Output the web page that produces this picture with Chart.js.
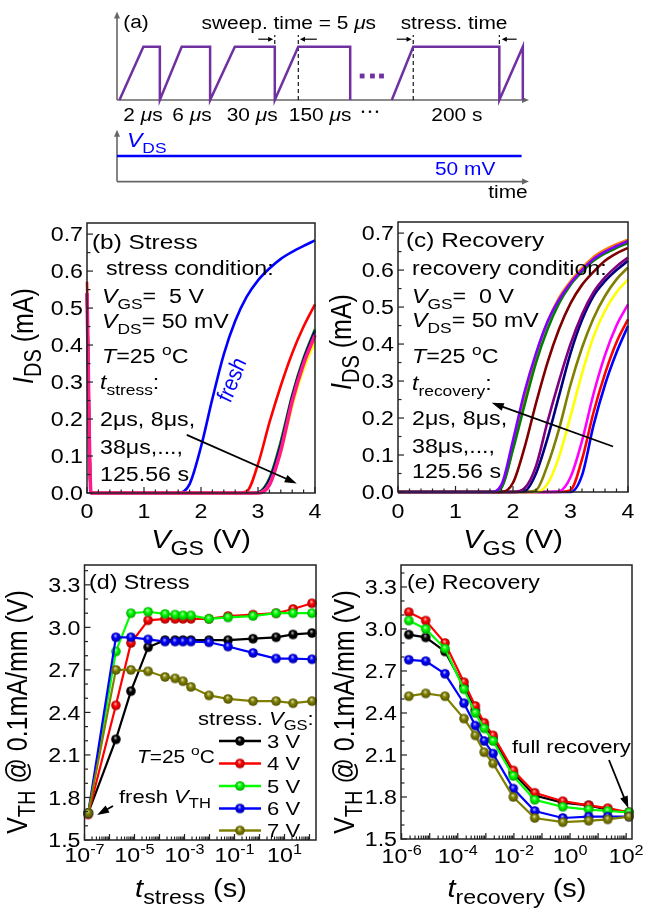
<!DOCTYPE html>
<html>
<head>
<meta charset="utf-8">
<script src="https://cdn.jsdelivr.net/npm/chart.js@4.4.0/dist/chart.umd.min.js"></script>
<style>
  body { margin: 0; background: #fff; }
  #wrap { position: relative; width: 657px; height: 912px; }
  canvas { position: absolute; left: 0; top: 0; }
</style>
</head>
<body>
<div id="wrap">
  <canvas id="ca" width="657" height="912"></canvas>
  <canvas id="cb" width="657" height="912"></canvas>
  <canvas id="cc" width="657" height="912"></canvas>
  <canvas id="cd" width="657" height="912"></canvas>
  <canvas id="ce" width="657" height="912"></canvas>
</div>
<script>
/* ---------- data ---------- */

// (a) gate waveform, schematic time units (0-100) and level (0 low, 1 high)
const gateT = [0.6, 6.4, 10.4, 10.4, 15.7, 22.6, 22.6, 28.6, 38.3, 38.3, 44.0, 56.6, 56.6, 56.6, 66.7, 71.9, 92.8, 92.8, 98.5, 98.5];
const gateV = [0, 1, 1, 0, 1, 1, 0, 1, 1, 0, 1, 1, 0, null, 0, 1, 1, 0, 1, 0];
const dashT = [38.3, 44.0, 71.9, 92.8];
const vdsT = [0, 98.2];
const vdsLevel = -1.05;
const dotsT = [59.5, 62.0, 64.2];
const smallDotsT = [59.7, 61.4, 63.1];

// (b) I-V under stress
const vgsB = [0, 0.07, 1.4, 1.6, 1.8, 2.0, 2.2, 2.4, 2.6, 2.8, 3.0, 3.2, 3.4, 3.6, 3.8, 4.0];
const freshB  = [0.54, 0, 0, 0, 0.024, 0.125, 0.255, 0.375, 0.465, 0.53, 0.575, 0.607, 0.633, 0.652, 0.668, 0.683];
const redB    = [0.571, 0, 0, 0, 0, 0, 0, 0, 0, 0.004, 0.078, 0.19, 0.29, 0.378, 0.45, 0.51];
const greenB  = [0.54, 0, 0, 0, 0, 0, 0, 0, 0, 0, 0.002, 0.04, 0.14, 0.265, 0.365, 0.443];
const navyB   = [0.54, 0, 0, 0, 0, 0, 0, 0, 0, 0, 0.001, 0.035, 0.13, 0.26, 0.36, 0.438];
const yellowB = [0.54, 0, 0, 0, 0, 0, 0, 0, 0, 0, 0, 0.025, 0.11, 0.235, 0.335, 0.41];
const pinkB   = [0.54, 0, 0, 0, 0, 0, 0, 0, 0, 0, 0, 0.022, 0.115, 0.248, 0.35, 0.427];
const curvesB = [freshB, redB, greenB, navyB, yellowB, pinkB];
const colorsB = ['#0000ff', '#ff0000', '#008000', '#000080', '#ffff00', '#ff1a8c'];
const widthsB = [2.6, 2.6, 2.6, 2.6, 2.6, 3.6];

// (c) I-V during recovery
const vgsC = [0, 1.4, 1.6, 1.8, 2.0, 2.2, 2.4, 2.6, 2.8, 3.0, 3.2, 3.4, 3.6, 3.8, 4.0];
const blueC   = [0, 0, 0, 0, 0, 0, 0, 0, 0, 0, 0.045, 0.18, 0.29, 0.377, 0.449];
const redC    = [0, 0, 0, 0, 0, 0, 0, 0, 0, 0.005, 0.088, 0.215, 0.32, 0.405, 0.467];
const magC    = [0, 0, 0, 0, 0, 0, 0, 0, 0.002, 0.04, 0.138, 0.265, 0.37, 0.45, 0.507];
const yelC    = [0, 0, 0, 0, 0, 0, 0, 0.022, 0.095, 0.205, 0.32, 0.42, 0.49, 0.54, 0.575];
const oliveC  = [0, 0, 0, 0, 0, 0, 0.005, 0.072, 0.17, 0.29, 0.39, 0.47, 0.53, 0.575, 0.607];
const navyC   = [0, 0, 0, 0, 0, 0.002, 0.05, 0.145, 0.26, 0.375, 0.465, 0.53, 0.57, 0.60, 0.625];
const purpleC = [0, 0, 0, 0, 0, 0.01, 0.07, 0.19, 0.30, 0.40, 0.48, 0.54, 0.58, 0.61, 0.634];
const wineC   = [0, 0, 0, 0, 0.025, 0.12, 0.24, 0.35, 0.44, 0.51, 0.56, 0.595, 0.625, 0.645, 0.66];
const orangeC = [0, 0, 0, 0.014, 0.12, 0.255, 0.37, 0.46, 0.525, 0.57, 0.605, 0.635, 0.655, 0.67, 0.682];
const greenC  = [0, 0, 0, 0.012, 0.115, 0.235, 0.35, 0.44, 0.51, 0.56, 0.595, 0.625, 0.645, 0.66, 0.673];
const violetC = [0, 0, 0, 0.02, 0.14, 0.27, 0.375, 0.46, 0.52, 0.565, 0.60, 0.63, 0.65, 0.665, 0.679];
const curvesC = [blueC, redC, magC, yelC, oliveC, navyC, purpleC, wineC, orangeC, greenC, violetC];
const colorsC = ['#0000ff', '#ff0000', '#ff00ff', '#ffff00', '#808000', '#000080', '#800080', '#800000', '#ff8000', '#008000', '#8000ff'];

// (d) VTH vs stress time, first point = fresh
const tStress = [1.4e-7, 1.8e-6, 7.2e-6, 3.5e-5, 1.66e-4, 4.2e-4, 8.7e-4, 1.8e-3, 9.5e-3, 5.5e-2, 0.55, 4.6, 22, 125.56];
const vth3 = [1.69, 2.21, 2.55, 2.86, 2.91, 2.91, 2.91, 2.91, 2.91, 2.91, 2.92, 2.93, 2.95, 2.96];
const vth4 = [1.68, 2.45, 2.89, 3.05, 3.06, 3.06, 3.06, 3.06, 3.06, 3.08, 3.09, 3.10, 3.13, 3.17];
const vth5 = [1.69, 2.83, 3.10, 3.11, 3.095, 3.09, 3.085, 3.085, 3.06, 3.07, 3.08, 3.10, 3.10, 3.10];
const vth6 = [1.69, 2.93, 2.93, 2.915, 2.90, 2.90, 2.90, 2.90, 2.895, 2.865, 2.82, 2.78, 2.78, 2.775];
const vth7 = [1.69, 2.70, 2.70, 2.69, 2.65, 2.64, 2.62, 2.58, 2.52, 2.495, 2.48, 2.48, 2.465, 2.48];
const stressSeries = [vth3, vth4, vth5, vth6, vth7];

// (e) VTH vs recovery time
const tRec = [1.8e-6, 7.2e-6, 3.5e-5, 1.66e-4, 4.2e-4, 8.7e-4, 1.8e-3, 9.5e-3, 5.5e-2, 0.55, 4.6, 22, 125.56];
const rec3 = [2.96, 2.94, 2.84, 2.59, 2.42, 2.31, 2.22, 1.97, 1.81, 1.76, 1.74, 1.71, 1.69];
const rec4 = [3.12, 3.06, 2.90, 2.62, 2.45, 2.33, 2.24, 1.99, 1.83, 1.77, 1.74, 1.72, 1.69];
const rec5 = [3.06, 3.00, 2.86, 2.57, 2.40, 2.29, 2.20, 1.95, 1.78, 1.73, 1.71, 1.70, 1.69];
const rec6 = [2.78, 2.77, 2.68, 2.47, 2.31, 2.20, 2.11, 1.86, 1.70, 1.65, 1.66, 1.66, 1.66];
const rec7 = [2.52, 2.54, 2.52, 2.36, 2.24, 2.12, 2.04, 1.80, 1.65, 1.62, 1.63, 1.64, 1.66];
const recSeries = [rec3, rec4, rec5, rec6, rec7];

const vthColors = ['#000000', '#ff0000', '#00ff00', '#0000ff', '#808000'];
const legendLabels = ['3 V', '4 V', '5 V', '6 V', '7 V'];

const ivTicks = [0, 0.1, 0.2, 0.3, 0.4, 0.5, 0.6, 0.7];
const vthTicks = [1.5, 1.8, 2.1, 2.4, 2.7, 3.0, 3.3];

/* ---------- helpers ---------- */
const FONT = '"Liberation Sans", Arial, Helvetica, sans-serif';
const SX = 1.16;   // the figure's text is a bit wider than Arial

// '*' toggles italic, _{..} subscript, ^{..} superscript
function parseRich(s) {
    const out = []; let it = false, buf = '', i = 0;
    const push = (t, mode) => { if (t) out.push({ t, it, mode }); };
    while (i < s.length) {
        const c = s[i];
        if (c === '*') { push(buf, 0); buf = ''; it = !it; i++; }
        else if ((c === '_' || c === '^') && s[i + 1] === '{') {
            push(buf, 0); buf = '';
            const j = s.indexOf('}', i);
            push(s.slice(i + 2, j), c === '_' ? 1 : 2);
            i = j + 1;
        } else { buf += c; i++; }
    }
    push(buf, 0);
    return out;
}

function drawRich(ctx, s, x, y, size, o = {}) {
    const parts = parseRich(s);
    const small = size * (o.sub || 0.75);
    const fontOf = p => `${p.it ? 'italic ' : ''}${p.mode ? small : size}px ${FONT}`;
    let w = 0;
    parts.forEach(p => { ctx.font = fontOf(p); p.w = ctx.measureText(p.t).width; w += p.w; });
    ctx.save();
    ctx.translate(x, y);
    ctx.scale(SX, 1);
    if (o.rot) ctx.rotate(o.rot);
    ctx.fillStyle = o.color || '#000';
    ctx.textAlign = 'left'; ctx.textBaseline = 'alphabetic';
    let cx = o.align === 'center' ? -w / 2 : o.align === 'right' ? -w : 0;
    parts.forEach(p => {
        ctx.font = fontOf(p);
        const dy = p.mode === 1 ? size * 0.28 : p.mode === 2 ? -size * 0.42 : 0;
        ctx.fillText(p.t, cx, dy);
        cx += p.w;
    });
    ctx.restore();
}

function arrow(ctx, x1, y1, x2, y2, head, width, color, lw) {
    const ang = Math.atan2(y2 - y1, x2 - x1);
    ctx.save();
    ctx.strokeStyle = color; ctx.fillStyle = color; ctx.lineWidth = lw;
    ctx.beginPath(); ctx.moveTo(x1, y1);
    ctx.lineTo(x2 - Math.cos(ang) * head * 0.8, y2 - Math.sin(ang) * head * 0.8); ctx.stroke();
    ctx.translate(x2, y2); ctx.rotate(ang);
    ctx.beginPath(); ctx.moveTo(0, 0); ctx.lineTo(-head, -width / 2); ctx.lineTo(-head, width / 2); ctx.closePath(); ctx.fill();
    ctx.restore();
}

function mix(hex, t, target) {
    const n = parseInt(hex.slice(1), 16);
    const c = [(n >> 16) & 255, (n >> 8) & 255, n & 255].map(v => Math.round(v + (target - v) * t));
    return `rgb(${c[0]},${c[1]},${c[2]})`;
}

// shaded sphere markers like the original
function ball(color, r = 4.8) {
    const s = Math.ceil(r * 2 + 2), m = s / 2;
    const c = document.createElement('canvas'); c.width = c.height = s;
    const g = c.getContext('2d');
    const grd = g.createRadialGradient(m - r * 0.15, m - r * 0.4, 0, m, m, r);
    grd.addColorStop(0, mix(color, 0.8, 255));
    grd.addColorStop(0.45, color);
    grd.addColorStop(1, mix(color, 0.35, 0));
    g.fillStyle = grd; g.beginPath(); g.arc(m, m, r, 0, Math.PI * 2); g.fill();
    return c;
}
const balls = vthColors.map(c => ball(c));

function pad(left, top, right, bottom) {
    return { left, top, right: 657 - right, bottom: 912 - bottom };
}

function baseOptions(padding, x, y) {
    return {
        responsive: false, animation: false, events: [],
        layout: { padding },
        plugins: { legend: { display: false }, tooltip: { enabled: false } },
        scales: { x: Object.assign({ display: false }, x), y: Object.assign({ display: false }, y) }
    };
}

// frame, inward ticks, tick labels, titles, notes
function framePlugin(spec) {
    return {
        id: 'frame' + spec.name,
        afterDatasetsDraw(chart) {
            const { ctx, chartArea: a, scales: { x, y } } = chart;
            ctx.save();
            ctx.strokeStyle = '#222'; ctx.lineWidth = 1.5;
            ctx.strokeRect(a.left, a.top, a.right - a.left, a.bottom - a.top);
            ctx.lineWidth = 1.2;
            const tick = (px, py, dx, dy) => { ctx.beginPath(); ctx.moveTo(px, py); ctx.lineTo(px + dx, py + dy); ctx.stroke(); };
            spec.xMajor.forEach(v => tick(x.getPixelForValue(v), a.bottom, 0, -6));
            spec.xMinor.forEach(v => tick(x.getPixelForValue(v), a.bottom, 0, -3.5));
            spec.yMajor.forEach(v => tick(a.left, y.getPixelForValue(v), 6, 0));
            spec.yMinor.forEach(v => tick(a.left, y.getPixelForValue(v), 3.5, 0));
            ctx.restore();

            spec.xLabels.forEach(([v, s]) => drawRich(ctx, s, x.getPixelForValue(v), spec.xLabelBase, 20, { align: 'center', sub: 0.7 }));
            spec.yLabels.forEach(([v, s]) => drawRich(ctx, s, a.left - 4, y.getPixelForValue(v) + 7.2, 20, { align: 'right' }));
            const xt = spec.xTitle, yt = spec.yTitle;
            drawRich(ctx, xt.s, xt.x, xt.y, 25, { align: 'center', sub: 0.8 });
            drawRich(ctx, yt.s, yt.x, yt.y, 25, { align: 'center', sub: 0.8, rot: -Math.PI / 2 });
            (spec.notes || []).forEach(n => drawRich(ctx, n.s, n.x, n.y, n.size || 20, n));
            (spec.arrows || []).forEach(([x1, y1, x2, y2]) =>
                arrow(ctx, x.getPixelForValue(x1), y.getPixelForValue(y1), x.getPixelForValue(x2), y.getPixelForValue(y2), 12, 8, '#000', 1.8));
            if (spec.extra) spec.extra(chart);
        }
    };
}

function range(a, b, step) {
    const out = [];
    for (let v = a; v <= b + 1e-9; v += step) out.push(+v.toFixed(4));
    return out;
}
function logMinor(e0, e1) {
    const out = [];
    for (let e = e0; e < e1; e++) for (let k = 2; k <= 9; k++) out.push(k * Math.pow(10, e));
    return out;
}

/* ---------- (a) timing diagram ---------- */
const PURPLE = '#7030a0';
new Chart(document.getElementById('ca'), {
    type: 'line',
    data: {
        datasets: [
            { data: gateT.map((t, i) => ({ x: t, y: gateV[i] })), borderColor: PURPLE, borderWidth: 2.5, pointRadius: 0, spanGaps: false },
            ...dashT.map(t => ({ data: [{ x: t, y: 0 }, { x: t, y: 1.22 }], borderColor: '#000', borderWidth: 1.1, borderDash: [4, 3], pointRadius: 0 })),
            { data: vdsT.map(t => ({ x: t, y: vdsLevel })), borderColor: '#0000ff', borderWidth: 2.5, pointRadius: 0 },
            { data: dotsT.map(t => ({ x: t, y: 0.45 })), showLine: false, pointStyle: 'rect', pointRadius: 3.4, backgroundColor: PURPLE, borderWidth: 0 },
            { data: smallDotsT.map(t => ({ x: t, y: -0.22 })), showLine: false, pointStyle: 'rect', pointRadius: 1.6, backgroundColor: '#000', borderWidth: 0 }
        ]
    },
    options: baseOptions(pad(117, 4, 529, 196), { type: 'linear', min: 0, max: 100 }, { min: -1.8, max: 1.8 }),
    plugins: [{
        id: 'axesA',
        beforeDatasetsDraw(chart) {
            const { ctx, scales: { x, y } } = chart;
            const X = v => x.getPixelForValue(v), Y = v => y.getPixelForValue(v);
            arrow(ctx, X(0), Y(0), X(0), Y(1.66), 7, 6, '#666', 1.6);
            arrow(ctx, X(0), Y(0), X(100), Y(0), 7, 6, '#666', 1.6);
            arrow(ctx, X(0), Y(-1.53), X(0), Y(-0.56), 7, 6, '#666', 1.6);
            arrow(ctx, X(0), Y(-1.53), X(100), Y(-1.53), 7, 6, '#666', 1.6);
        },
        afterDatasetsDraw(chart) {
            const { ctx, scales: { x, y } } = chart;
            const X = v => x.getPixelForValue(v), Y = v => y.getPixelForValue(v);
            [[34.3, 37.9], [48.5, 44.4], [67.9, 71.5], [97.0, 93.4]].forEach(([from, to]) =>
                arrow(ctx, X(from), Y(1.14), X(to), Y(1.14), 5, 5, '#000', 1.2));
            const notes = [
                ['(a)', 1.5, 1.35, 'left', '#000', 18],
                ['sweep. time = 5 *μ*s', 41.7, 1.33, 'center', '#000', 18],
                ['stress. time', 81.8, 1.33, 'center', '#000', 18],
                ['2 *μ*s', 6.3, -0.39, 'center', '#000', 18],
                ['6 *μ*s', 18.2, -0.39, 'center', '#000', 18],
                ['30 *μ*s', 32.8, -0.39, 'center', '#000', 18],
                ['150 *μ*s', 49.3, -0.39, 'center', '#000', 18],
                ['200 s', 82.5, -0.39, 'center', '#000', 18],
                ['*V*_{DS}', 2.4, -0.88, 'left', '#0000ff', 20],
                ['50 mV', 84.5, -1.41, 'center', '#0000ff', 18],
                ['time', 94.9, -1.84, 'center', '#000', 18]
            ];
            notes.forEach(([s, u, lev, align, color, size]) => drawRich(ctx, s, X(u), Y(lev), size, { align, color }));
        }
    }]
});

/* ---------- (b) stress I-V ---------- */
const ivYLabels = ivTicks.map(v => [v, v.toFixed(1)]);
const ivXLabels = [0, 1, 2, 3, 4].map(v => [v, String(v)]);

new Chart(document.getElementById('cb'), {
    type: 'line',
    data: {
        datasets: curvesB.map((c, i) => ({
            data: vgsB.map((v, k) => ({ x: v, y: c[k] })),
            borderColor: colorsB[i], borderWidth: widthsB[i], pointRadius: 0,
            cubicInterpolationMode: 'monotone', order: -i, clip: 6
        }))
    },
    options: baseOptions(pad(87, 223, 315, 493), { type: 'linear', min: 0, max: 4 }, { min: 0, max: 0.73 }),
    plugins: [framePlugin({
        name: 'b',
        xMajor: [0, 1, 2, 3, 4], xMinor: range(0.2, 3.8, 0.2).filter(v => v % 1 !== 0),
        yMajor: ivTicks, yMinor: range(0.05, 0.65, 0.1),
        xLabels: ivXLabels, xLabelBase: 518, yLabels: ivYLabels,
        xTitle: { s: '*V*_{GS} (V)', x: 201, y: 548 },
        yTitle: { s: '*I*_{DS} (mA)', x: 33, y: 336 },
        notes: [
            { s: '(b) Stress', x: 92, y: 249, size: 21 },
            { s: 'stress condition:', x: 106, y: 275 },
            { s: '*V*_{GS}=  5 V', x: 102, y: 303 },
            { s: '*V*_{DS}= 50 mV', x: 102, y: 328 },
            { s: '*T*=25 ^{o}C', x: 102, y: 363 },
            { s: '*t*_{stress}:', x: 100, y: 389 },
            { s: '2μs, 8μs,', x: 100, y: 426 },
            { s: '38μs,...,', x: 100, y: 454 },
            { s: '125.56 s', x: 100, y: 481 },
            { s: '*fresh*', x: 239, y: 382, color: '#0000ff', rot: -1.25, align: 'center' }
        ],
        arrows: [[1.75, 0.157, 3.68, 0.026]]
    })]
});

/* ---------- (c) recovery I-V ---------- */
new Chart(document.getElementById('cc'), {
    type: 'line',
    data: {
        datasets: curvesC.map((c, i) => ({
            data: vgsC.map((v, k) => ({ x: v, y: c[k] })),
            borderColor: colorsC[i], borderWidth: 2.6, pointRadius: 0,
            cubicInterpolationMode: 'monotone', order: -i, clip: 6
        }))
    },
    options: baseOptions(pad(398, 222, 628, 492), { type: 'linear', min: 0, max: 4 }, { min: 0, max: 0.73 }),
    plugins: [framePlugin({
        name: 'c',
        xMajor: [0, 1, 2, 3, 4], xMinor: range(0.2, 3.8, 0.2).filter(v => v % 1 !== 0),
        yMajor: ivTicks, yMinor: range(0.05, 0.65, 0.1),
        xLabels: ivXLabels, xLabelBase: 518, yLabels: ivYLabels,
        xTitle: { s: '*V*_{GS} (V)', x: 513, y: 548 },
        yTitle: { s: '*I*_{DS} (mA)', x: 351, y: 342 },
        notes: [
            { s: '(c) Recovery', x: 406, y: 247, size: 21 },
            { s: 'recovery condition:', x: 412, y: 275 },
            { s: '*V*_{GS}=  0 V', x: 412, y: 303 },
            { s: '*V*_{DS}= 50 mV', x: 412, y: 327 },
            { s: '*T*=25 ^{o}C', x: 412, y: 363 },
            { s: '*t*_{recovery}:', x: 412, y: 390 },
            { s: '2μs, 8μs,', x: 412, y: 425 },
            { s: '38μs,...,', x: 412, y: 453 },
            { s: '125.56 s', x: 412, y: 478 }
        ],
        arrows: [[3.74, 0.123, 1.63, 0.241]]
    })]
});

/* ---------- (d) VTH under stress ---------- */
const vthYLabels = vthTicks.map(v => [v, v.toFixed(1)]);
const vthMinor = range(1.6, 3.4, 0.1).filter(v => Math.abs((v - 1.5) / 0.3 - Math.round((v - 1.5) / 0.3)) > 0.01);

function vthDatasets(times, series) {
    return series.map((s, i) => ({
        data: times.map((t, k) => ({ x: t, y: s[k] })),
        borderColor: vthColors[i], borderWidth: 2.2,
        pointStyle: balls[i], pointRadius: 5, order: -i, clip: 8
    }));
}

new Chart(document.getElementById('cd'), {
    type: 'line',
    data: { datasets: vthDatasets(tStress, stressSeries) },
    options: baseOptions(pad(84.5, 565, 316, 840), { type: 'logarithmic', min: 1e-7, max: 182 }, { min: 1.5, max: 3.44 }),
    plugins: [framePlugin({
        name: 'd',
        xMajor: [-7, -6, -5, -4, -3, -2, -1, 0, 1, 2].map(e => Math.pow(10, e)), xMinor: logMinor(-7, 2),
        yMajor: vthTicks, yMinor: vthMinor,
        xLabels: [-7, -5, -3, -1, 1].map(e => [Math.pow(10, e), `10^{${e}}`]), xLabelBase: 862, yLabels: vthYLabels,
        xTitle: { s: '*t*_{stress} (s)', x: 191, y: 897 },
        yTitle: { s: 'V_{TH} @ 0.1mA/mm (V)', x: 27, y: 712 },
        notes: [
            { s: '(d) Stress', x: 89, y: 589 },
            { s: 'stress. *V*_{GS}:', x: 198, y: 725, size: 19 },
            { s: '*T*=25 ^{o}C', x: 137, y: 763, size: 18 },
            { s: 'fresh *V*_{TH}', x: 119, y: 803, size: 19 }
        ],
        arrows: [[1.38e-6, 1.74, 3.2e-7, 1.676]],
        extra(chart) {
            const ctx = chart.ctx;
            const rows = [741, 763.5, 786, 808.5, 830.5];
            rows.forEach((ry, i) => {
                ctx.save();
                ctx.strokeStyle = vthColors[i]; ctx.lineWidth = 2.4;
                ctx.beginPath(); ctx.moveTo(219, ry); ctx.lineTo(261, ry); ctx.stroke();
                ctx.drawImage(balls[i], 240 - balls[i].width / 2, ry - balls[i].height / 2);
                ctx.restore();
                drawRich(ctx, legendLabels[i], 267, ry + 6.8, 19);
            });
        }
    })]
});

/* ---------- (e) VTH during recovery ---------- */
new Chart(document.getElementById('ce'), {
    type: 'line',
    data: { datasets: vthDatasets(tRec, recSeries) },
    options: baseOptions(pad(401, 565, 632, 839), { type: 'logarithmic', min: 9.5e-7, max: 161 }, { min: 1.5, max: 3.457 }),
    plugins: [framePlugin({
        name: 'e',
        xMajor: [-6, -5, -4, -3, -2, -1, 0, 1, 2].map(e => Math.pow(10, e)), xMinor: logMinor(-6, 2),
        yMajor: vthTicks, yMinor: vthMinor,
        xLabels: [-6, -4, -2, 0, 2].map(e => [Math.pow(10, e), `10^{${e}}`]), xLabelBase: 863, yLabels: vthYLabels,
        xTitle: { s: '*t*_{recovery} (s)', x: 517, y: 897 },
        yTitle: { s: 'V_{TH} @ 0.1mA/mm (V)', x: 354, y: 712 },
        notes: [
            { s: '(e) Recovery', x: 407, y: 589 },
            { s: 'full recovery', x: 512, y: 753, size: 19 }
        ],
        arrows: [[24.4, 2.064, 120, 1.72]]
    })]
});
</script>
</body>
</html>
